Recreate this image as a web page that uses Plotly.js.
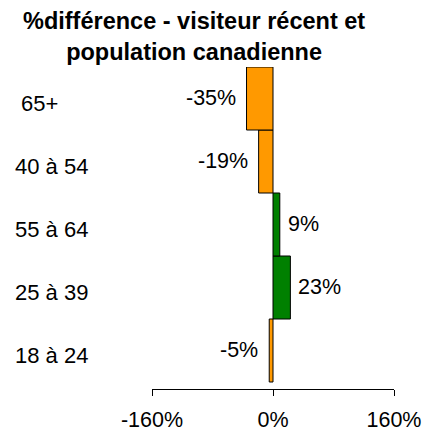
<!DOCTYPE html>
<html><head><meta charset="utf-8">
<script src="https://cdn.plot.ly/plotly-3.0.1.min.js"></script>
<style>html,body{margin:0;padding:0;background:#fff}#chart{width:425px;height:431px}</style>
</head><body><div id="chart"></div>
<script>
// Data (bottom to top)
const categories = ['18 à 24', '25 à 39', '55 à 64', '40 à 54', '65+'];
const tickLabels = ['18 à 24', '25 à 39', '55 à 64', '40 à 54', '\u00a065+'];
const values = [-5, 23, 9, -19, -35];
const valueLabels = ['-5%', '23%', '9%', '-19%', '-35%'];
const xTicks = [-160, 0, 160];
const xTickLabels = ['-160%', '0%', '160%'];
const titleText = '%différence - visiteur récent et<br>population canadienne';

const colors = values.map(v => v < 0 ? '#FF9900' : '#008000');
const font = 'Arial, "Liberation Sans", sans-serif';

const trace = {
  type: 'bar', orientation: 'h',
  x: values, y: categories,
  marker: {color: colors, line: {color: '#000', width: 1}},
  width: 1, hoverinfo: 'skip'
};

const annotations = [];
values.forEach((v, i) => {
  annotations.push({
    x: v, y: categories[i], xref: 'x', yref: 'y',
    text: valueLabels[i], showarrow: false,
    xanchor: v < 0 ? 'right' : 'left', xshift: v < 0 ? -9 : 6, yshift: 1,
    font: {family: font, size: 21.5, color: '#000'}
  });
  annotations.push({
    x: (13 - 152) / 242, xref: 'paper', y: categories[i], yref: 'y',
    text: tickLabels[i], showarrow: false, xanchor: 'left', yshift: -5,
    font: {family: font, size: 22, color: '#000'}
  });
});
annotations.push({
  x: (194 - 152) / 242, xref: 'paper', y: (389 - 37) / 322, yref: 'paper',
  text: '<b>' + titleText + '</b>', showarrow: false,
  xanchor: 'center', yanchor: 'middle', align: 'center',
  font: {family: font, size: 23.5, color: '#000'}
});

const layout = {
  width: 425, height: 431,
  margin: {l: 152, r: 31, t: 67, b: 42},
  paper_bgcolor: '#fff', plot_bgcolor: '#fff',
  showlegend: false, bargap: 0,
  xaxis: {
    range: [-160, 160], tickvals: xTicks, ticktext: xTickLabels,
    showline: true, linecolor: '#000', linewidth: 1,
    ticks: 'outside', ticklen: 6, tickcolor: '#000', tickwidth: 1,
    ticklabelstandoff: 5,
    showgrid: false, zeroline: false, fixedrange: true,
    tickfont: {family: font, size: 21.5, color: '#000'}
  },
  yaxis: {
    type: 'category', categoryorder: 'array', categoryarray: categories,
    range: [-0.611, 4.5], showticklabels: false, showline: false,
    ticks: '', showgrid: false, zeroline: false, fixedrange: true
  },
  annotations: annotations
};

Plotly.newPlot('chart', [trace], layout, {displayModeBar: false, staticPlot: true});
</script>
</body></html>
